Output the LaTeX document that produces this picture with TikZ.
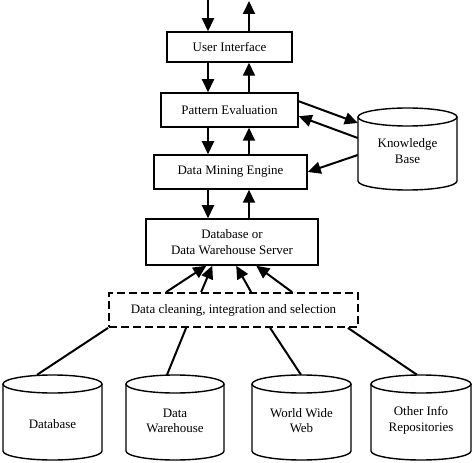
\documentclass[tikz,border=0pt]{standalone}
\usepackage{fontspec}
\setmainfont{Liberation Serif}
\usetikzlibrary{arrows.meta}
\newcommand\mycyl[5]{%
  \node[draw=none,minimum width=2*#4 bp,minimum height=2*#5 bp,inner sep=0pt] (#1) at (#2,#3) {};
  \draw[cylline] (#2-#4,#3-#5+9) -- (#2-#4,#3+#5-9) arc[start angle=180,end angle=0,x radius=#4,y radius=9] -- (#2+#4,#3-#5+9);
  \draw[cylline] (#2,#3-#5+9) ellipse[x radius=#4,y radius=9];
}
\begin{document}
\begin{tikzpicture}[x=1bp,y=-1bp,
  font=\fontsize{13}{15.5}\selectfont,
  box/.style={draw,line width=1.5bp,inner sep=0pt,align=center},
  dbox/.style={draw,line width=1.8bp,dash pattern=on 8bp off 4bp,inner sep=0pt},
  cylline/.style={line width=1.4bp},
  cyltext/.style={align=center,inner sep=0pt},
  arr/.style={line width=2bp,-{Triangle[length=13bp,width=12bp]}},
  ln/.style={line width=2bp}]
\useasboundingbox (0,0) rectangle (474,463);
\node[box,minimum width=125bp,minimum height=30bp] (ui) at (229.5,47) {User Interface};
\node[box,minimum width=137bp,minimum height=34bp] (pe) at (229.5,110) {Pattern Evaluation};
\node[box,minimum width=153bp,minimum height=34bp] (dme) at (230.5,172) {Data Mining Engine};
\node[box,minimum width=172bp,minimum height=46bp] (srv) at (232,242) {Database or\\Data Warehouse Server};
\node[dbox,minimum width=249bp,minimum height=34bp] (dc) at (233.5,310) {Data cleaning, integration and selection};
\mycyl{kb}{407.5}{149}{49.5}{41}
\node[cyltext] at ([yshift=-2bp]kb.center) {Knowledge\\Base};
\mycyl{db1}{52.5}{417.5}{49.5}{42.5}
\node[cyltext] at ([yshift=-6.5bp]db1.center) {Database};
\mycyl{dw}{175}{417.5}{49}{42.5}
\node[cyltext] at ([yshift=-3.5bp]dw.center) {Data\\Warehouse};
\mycyl{www}{301.5}{417.5}{49.5}{42.5}
\node[cyltext] at ([yshift=-3bp]www.center) {World Wide\\Web};
\mycyl{oth}{421}{417.5}{50}{42.5}
\node[cyltext] at ([yshift=-3bp]oth.center) {Other Info\\Repositories};
\coordinate (L) at (208,0);
\coordinate (R) at (249,1);
\draw[arr] (L) -- (L |- ui.north);
\draw[arr] (R |- ui.north) -- (R);
\draw[arr] (L |- ui.south) -- (L |- pe.north);
\draw[arr] (R |- pe.north) -- (R |- ui.south);
\draw[arr] (L |- pe.south) -- (L |- dme.north);
\draw[arr] (R |- dme.north) -- (R |- pe.south);
\draw[arr] (L |- dme.south) -- (L |- srv.north);
\draw[arr] (R |- srv.north) -- (R |- dme.south);
\draw[arr] ([xshift=58bp]dc.north west) -- ([xshift=61bp]srv.south west);
\draw[arr] ([xshift=93bp]dc.north west) -- ([xshift=67bp]srv.south west);
\draw[arr] ([xshift=143bp]dc.north west) -- ([xshift=91bp]srv.south west);
\draw[arr] ([xshift=184bp]dc.north west) -- ([xshift=111bp]srv.south west);
\draw[arr] ([yshift=-9bp]pe.north east) -- ([yshift=26bp]kb.west);
\draw[arr] ([yshift=11bp]kb.west) -- ([yshift=-24bp]pe.north east);
\draw[arr] ([yshift=-6bp]kb.west) -- (dme.east);
\draw[ln] (dc.south west) -- ([xshift=-15.5bp]db1.north);
\draw[ln] ([xshift=78bp]dc.south west) -- ([xshift=-8bp]dw.north);
\draw[ln] ([xshift=162bp]dc.south west) -- ([xshift=-0.5bp]www.north);
\draw[ln] ([xshift=-11bp]dc.south east) -- ([xshift=-4bp]oth.north);
\end{tikzpicture}
\end{document}
